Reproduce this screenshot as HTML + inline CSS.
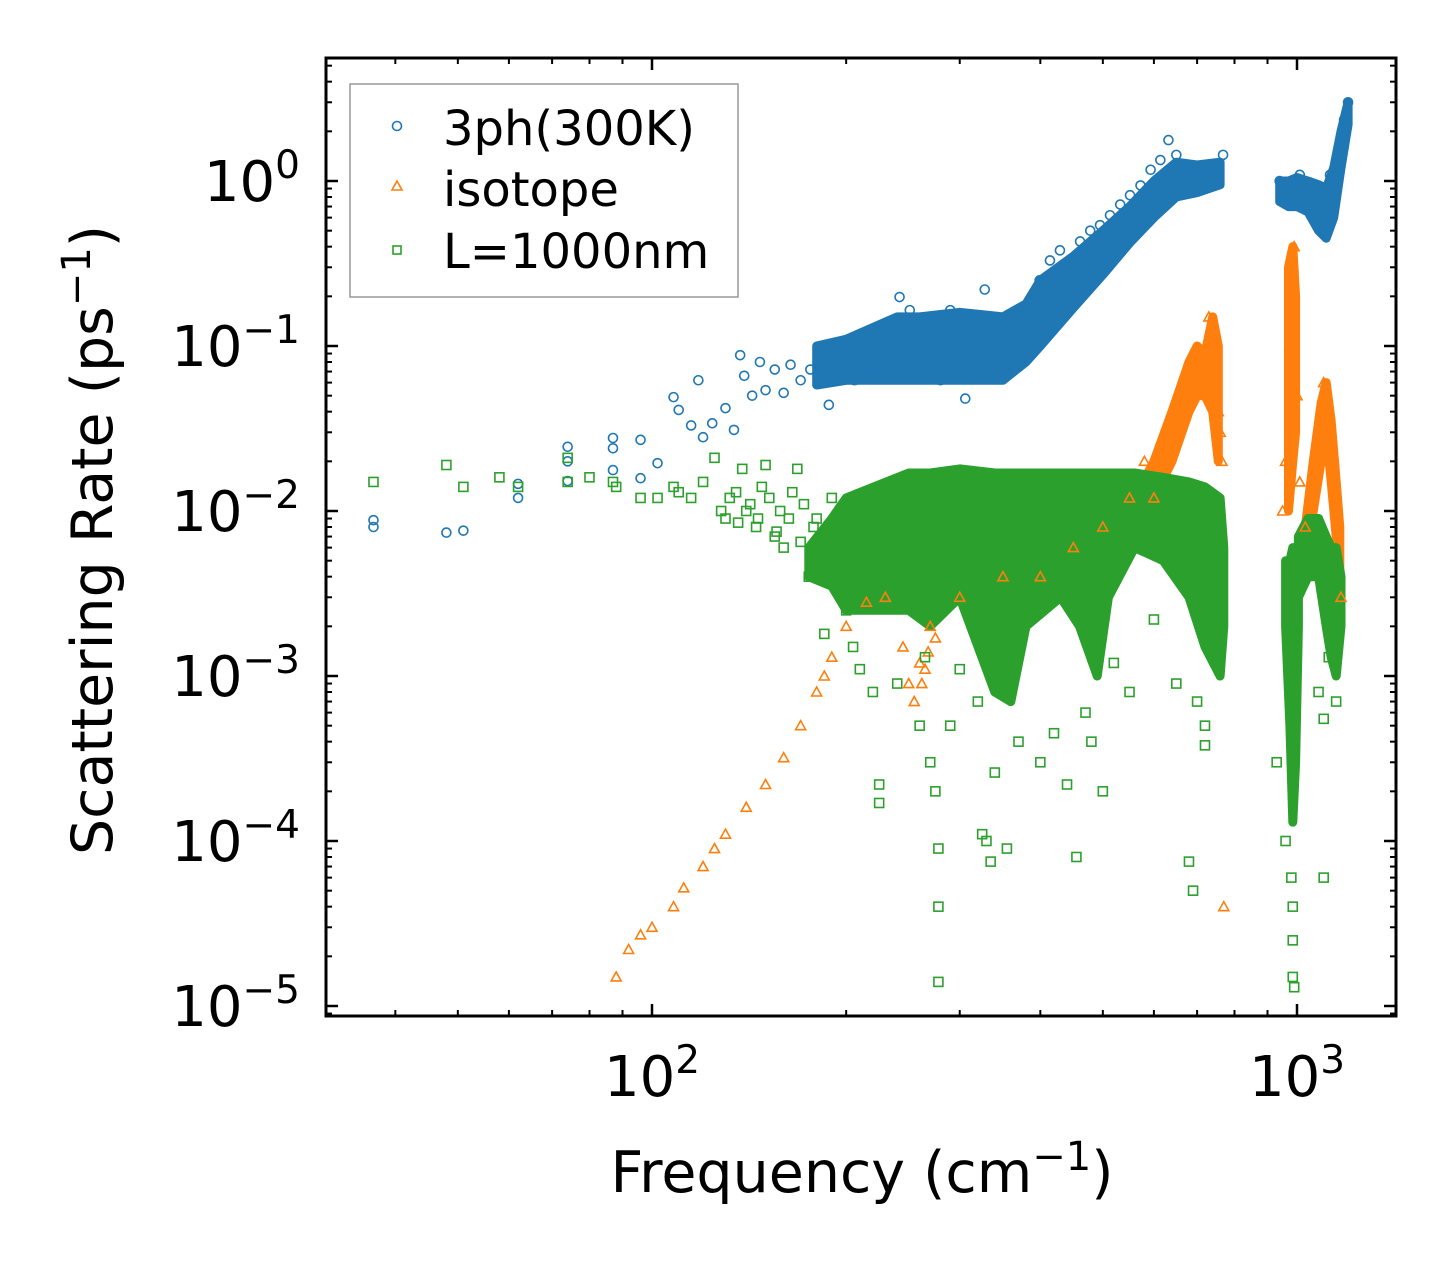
<!DOCTYPE html>
<html><head><meta charset="utf-8"><style>
html,body{margin:0;padding:0;background:#fff;}
svg{display:block;font-family:"DejaVu Sans","Liberation Sans",sans-serif;}
</style></head><body>
<svg id="chart" width="1455" height="1265" viewBox="0 0 1455 1265" xmlns="http://www.w3.org/2000/svg">
<rect width="1455" height="1265" fill="#fff"/>
<g id="bands"></g>
<g id="marks"></g>
<g id="axes"></g>
<g>
  <rect x="350" y="84" width="388" height="213" fill="#fff" fill-opacity="0.8" stroke="#999" stroke-width="1.5"/>
  <circle cx="397" cy="126" r="4.5" fill="none" stroke="#1f77b4" stroke-width="1.6"/>
  <text x="443" y="145" font-size="48">3ph(300K)</text>
  <path d="M397,181 L402,190 L392,190 Z" fill="none" stroke="#ff7f0e" stroke-width="1.6"/>
  <text x="443" y="206" font-size="48">isotope</text>
  <rect x="393" y="246" width="8" height="8" fill="none" stroke="#2ca02c" stroke-width="1.6"/>
  <text x="443" y="268" font-size="48">L=1000nm</text>
</g>
<text x="862" y="1192" font-size="57" text-anchor="middle">Frequency (cm<tspan dy="-22" font-size="40">−1</tspan><tspan dy="22">)</tspan></text>
<text transform="translate(112,540) rotate(-90)" font-size="57" text-anchor="middle">Scattering Rate (ps<tspan dy="-22" font-size="40">−1</tspan><tspan dy="22">)</tspan></text>
</svg>
<script>
// ---- data (frequency cm^-1, rate ps^-1) ----
const blueX=[37,37,48,51,62,62,74,74,74,87,87,87,96,96,102,108,110,115,118,120,124,130,134,137,139,143,147,150,155,160,164,170,176,182,188,192,199,206,214,221,230,238,242,251,260,270,280,290,300,306,317,328,334,346,359,371,385,399,414,429,445,461,478,495,513,532,551,572,593,614,632,650,672,697,722,749,768,940,975,1010,1046,1084,1106,1125,1145,1165,1183,1200];
const blueY=[0.0088,0.008,0.0074,0.0076,0.0146,0.012,0.0245,0.020,0.0152,0.0277,0.024,0.0177,0.0158,0.027,0.0195,0.049,0.041,0.033,0.062,0.028,0.034,0.042,0.031,0.088,0.066,0.05,0.08,0.054,0.072,0.052,0.077,0.062,0.072,0.088,0.044,0.091,0.082,0.062,0.108,0.072,0.088,0.125,0.198,0.165,0.094,0.125,0.062,0.165,0.082,0.048,0.116,0.22,0.072,0.108,0.144,0.082,0.19,0.25,0.33,0.38,0.29,0.43,0.5,0.54,0.62,0.72,0.82,0.94,1.17,1.34,1.77,1.44,1.25,1.17,1.09,1.25,1.44,1.0,0.77,1.09,0.72,0.62,0.47,1.09,0.77,1.17,2.35,3.0];
const orangeX=[88,92,96,100,108,112,120,125,130,140,150,160,170,180,185,190,200,215,230,245,250,255,260,262,265,268,270,275,300,350,400,450,500,550,580,600,650,700,730,745,755,760,765,770,950,960,975,985,990,1000,1010,1030,1050,1080,1100,1120,1150,1170];
const orangeY=[0.000015,0.000022,0.000027,0.00003,0.00004,0.000052,0.00007,0.00009,0.00011,0.00016,0.00022,0.00032,0.0005,0.0008,0.001,0.0013,0.002,0.0028,0.003,0.0015,0.0009,0.0007,0.0012,0.0009,0.0011,0.0014,0.002,0.0017,0.003,0.004,0.004,0.006,0.008,0.012,0.02,0.012,0.03,0.08,0.15,0.12,0.04,0.03,0.02,0.00004,0.01,0.02,0.1,0.3,0.4,0.05,0.015,0.008,0.012,0.03,0.06,0.04,0.01,0.003];
const greenX=[37,48,51,58,62,74,74,80,87,88,96,102,108,110,115,120,125,130,132,138,140,145,150,155,160,168,175,180,185,190,200,205,210,220,225,225,240,260,265,270,275,278,278,278,290,300,320,325,330,335,340,355,370,400,420,440,455,470,480,500,520,550,600,650,700,720,720,680,690,930,960,980,985,985,985,990,1080,1100,1100,1150,1120,135,142,148,152,158,165,172,178,128,136,146,156,163,170];
const greenY=[0.015,0.019,0.014,0.016,0.014,0.021,0.015,0.016,0.015,0.014,0.012,0.012,0.014,0.013,0.012,0.015,0.021,0.009,0.012,0.018,0.01,0.008,0.019,0.007,0.006,0.018,0.004,0.009,0.0018,0.012,0.0025,0.0015,0.0011,0.0008,0.00022,0.00017,0.0009,0.0005,0.0013,0.0003,0.0002,0.00009,0.00004,0.000014,0.0005,0.0011,0.0007,0.00011,0.0001,0.000075,0.00026,0.00009,0.0004,0.0003,0.00045,0.00022,0.00008,0.0006,0.0004,0.0002,0.0012,0.0008,0.0022,0.0009,0.0007,0.00038,0.0005,0.000075,0.00005,0.0003,0.0001,0.00006,0.00004,0.000025,0.000015,0.000013,0.0008,0.00055,0.00006,0.0007,0.0013,0.013,0.011,0.014,0.012,0.01,0.013,0.011,0.008,0.01,0.0085,0.009,0.0075,0.009,0.0065];
// dense-region envelopes (freq, lower, upper)
const blueBand1X=[180,200,240,260,300,350,380,400,450,500,550,600,650,700,760];
const blueBand1Lo=[0.058,0.062,0.062,0.062,0.062,0.062,0.08,0.1,0.17,0.27,0.42,0.6,0.8,0.85,0.95];
const blueBand1Hi=[0.1,0.11,0.15,0.15,0.16,0.15,0.18,0.25,0.35,0.5,0.7,1.0,1.3,1.25,1.3];
const blueBand2X=[940,970,1000,1040,1080,1110,1140,1170,1200];
const blueBand2Lo=[0.75,0.7,0.7,0.65,0.5,0.45,0.6,1.2,2.2];
const blueBand2Hi=[1.0,1.0,1.05,1.0,0.95,0.9,1.2,2.0,3.0];
const orangeBand1X=[560,600,640,680,700,720,740,755];
const orangeBand1Lo=[0.008,0.012,0.02,0.04,0.05,0.05,0.04,0.02];
const orangeBand1Hi=[0.012,0.02,0.04,0.08,0.1,0.09,0.15,0.1];
const orangeBand2X=[970,985,995];
const orangeBand2Lo=[0.01,0.02,0.03];
const orangeBand2Hi=[0.3,0.4,0.2];
const orangeBand3X=[1030,1060,1090,1110,1130,1150,1165];
const orangeBand3Lo=[0.005,0.01,0.02,0.03,0.015,0.007,0.004];
const orangeBand3Hi=[0.008,0.02,0.045,0.06,0.035,0.015,0.008];
const greenBand1X=[175,190,200,250,270,300,340,360,380,430,460,490,510,560,620,680,720,760,770];
const greenBand1Lo=[0.004,0.0035,0.0025,0.0025,0.002,0.003,0.0008,0.0007,0.002,0.003,0.002,0.001,0.003,0.006,0.005,0.003,0.0015,0.001,0.002];
const greenBand1Hi=[0.006,0.009,0.012,0.017,0.017,0.018,0.017,0.017,0.017,0.017,0.017,0.017,0.017,0.017,0.016,0.015,0.014,0.012,0.006];
const greenBand2X=[960,975,985,995,1005];
const greenBand2Lo=[0.002,0.0005,0.00013,0.0003,0.002];
const greenBand2Hi=[0.005,0.005,0.006,0.006,0.006];
const greenBand3X=[1005,1040,1080,1110,1130,1150,1170];
const greenBand3Lo=[0.003,0.004,0.004,0.002,0.0013,0.001,0.002];
const greenBand3Hi=[0.007,0.009,0.009,0.007,0.006,0.006,0.004];
const yTickExps=[0,-1,-2,-3,-4,-5];
const xTickExps=[2,3];

// ---- axes ----
const L=326,R=1396,T=58,B=1016;
const X2=652,X3=1297;
const Y0=181,DEC=165;
function sx(f){return X2+(Math.log10(f)-2)*(X3-X2);}
function sy(v){return Y0-Math.log10(v)*DEC;}
const NS="http://www.w3.org/2000/svg";
function mk(tag,attrs,parent){const e=document.createElementNS(NS,tag);for(const k in attrs)e.setAttribute(k,attrs[k]);parent.appendChild(e);return e;}
const bands=document.getElementById('bands'),marks=document.getElementById('marks'),axes=document.getElementById('axes');

function band(xs,lo,hi,color,name){
  let pts=xs.map((x,i)=>sx(x).toFixed(1)+','+sy(hi[i]).toFixed(1));
  for(let i=xs.length-1;i>=0;i--)pts.push(sx(xs[i]).toFixed(1)+','+sy(lo[i]).toFixed(1));
  const p=mk('polygon',{points:pts.join(' '),fill:color,stroke:color,'stroke-width':9,'stroke-linejoin':'round'},bands);
  
  
}
function circles(xs,ys){xs.forEach((x,i)=>{const c=mk('circle',{cx:sx(x),cy:sy(ys[i]),r:4.5,fill:'none',stroke:'#1f77b4','stroke-width':1.6},marks);
  
  });}
function tris(xs,ys){xs.forEach((x,i)=>{const cx=sx(x),cy=sy(ys[i]);const p=mk('path',{d:`M${cx},${cy-5} L${cx+5},${cy+4} L${cx-5},${cy+4} Z`,fill:'none',stroke:'#ff7f0e','stroke-width':1.6},marks);
  
  });}
function squares(xs,ys){xs.forEach((x,i)=>{const r=mk('rect',{x:sx(x)-4.5,y:sy(ys[i])-4.5,width:9,height:9,fill:'none',stroke:'#2ca02c','stroke-width':1.6},marks);
  
  });}

band(blueBand1X,blueBand1Lo,blueBand1Hi,'#1f77b4','band-3ph-main');
band(blueBand2X,blueBand2Lo,blueBand2Hi,'#1f77b4','band-3ph-high');
circles(blueX,blueY);
band(orangeBand1X,orangeBand1Lo,orangeBand1Hi,'#ff7f0e','band-isotope-peak1');
band(orangeBand2X,orangeBand2Lo,orangeBand2Hi,'#ff7f0e','band-isotope-peak2');
band(orangeBand3X,orangeBand3Lo,orangeBand3Hi,'#ff7f0e','band-isotope-peak3');
tris(orangeX,orangeY);
band(greenBand1X,greenBand1Lo,greenBand1Hi,'#2ca02c','band-boundary-main');
band(greenBand2X,greenBand2Lo,greenBand2Hi,'#2ca02c','band-boundary-dip');
band(greenBand3X,greenBand3Lo,greenBand3Hi,'#2ca02c','band-boundary-high');
squares(greenX,greenY);

const fr=mk('rect',{x:L,y:T,width:R-L,height:B-T,fill:'none',stroke:'#000','stroke-width':3},axes);


function line(x1,y1,x2,y2,w,name){const l=mk('line',{x1,y1,x2,y2,stroke:'#000','stroke-width':w},axes);
  
  }
for(let e=1;e<=3;e++){for(let m=1;m<10;m++){const f=m*Math.pow(10,e);const x=sx(f);if(x<L+1||x>R-1)continue;
  const len=m===1?12:6,w=m===1?2.5:2;
  line(x,B,x,B-len,w,'x-tick');line(x,T,x,T+len,w,'x-tick-top');}}
for(let e=-6;e<=1;e++){for(let m=1;m<10;m++){const v=m*Math.pow(10,e);const y=sy(v);if(y<T+1||y>B-1)continue;
  const len=m===1?12:6,w=m===1?2.5:2;
  line(L,y,L+len,y,w,'y-tick');line(R,y,R-len,y,w,'y-tick-right');}}
yTickExps.forEach(e=>{const t=mk('text',{x:300,y:sy(Math.pow(10,e))+20,'font-size':56,'text-anchor':'end'},axes);
  
  
  const a=document.createElementNS(NS,'tspan');a.textContent='10';t.appendChild(a);
  const b=document.createElementNS(NS,'tspan');b.setAttribute('dy','-23');b.setAttribute('font-size','39');b.textContent=e===0?'0':'−'+(-e);t.appendChild(b);});
xTickExps.forEach(e=>{const t=mk('text',{x:sx(Math.pow(10,e)),y:1096,'font-size':56,'text-anchor':'middle'},axes);
  
  
  const a=document.createElementNS(NS,'tspan');a.textContent='10';t.appendChild(a);
  const b=document.createElementNS(NS,'tspan');b.setAttribute('dy','-23');b.setAttribute('font-size','39');b.textContent=String(e);t.appendChild(b);});
</script>
</body></html>
